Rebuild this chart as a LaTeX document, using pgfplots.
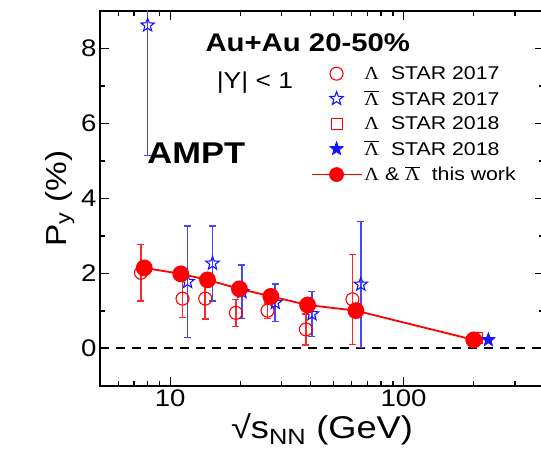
\documentclass[border=0pt]{standalone}
\usepackage{fontspec}
\setmainfont{Liberation Sans}[FakeStretch=1.15]
\newfontfamily\serifL{Liberation Serif}[FakeStretch=1.1]
\usepackage{pgfplots}
\pgfplotsset{compat=1.18}
\definecolor{myred}{RGB}{255,0,0}
\definecolor{myblue}{RGB}{20,20,255}
\definecolor{ebblue}{RGB}{70,70,255}
\newcommand{\Lam}{{\serifL Λ}}
\newcommand{\aLam}{$\overline{\hbox{\serifL Λ}}$}
\makeatletter
\pgfdeclareplotmark{ostar}{%
  \pgfpathmoveto{\pgfpointpolar{90}{\pgfplotmarksize}}%
  \pgfpathlineto{\pgfpointpolar{126}{0.42\pgfplotmarksize}}%
  \pgfpathlineto{\pgfpointpolar{162}{\pgfplotmarksize}}%
  \pgfpathlineto{\pgfpointpolar{198}{0.42\pgfplotmarksize}}%
  \pgfpathlineto{\pgfpointpolar{234}{\pgfplotmarksize}}%
  \pgfpathlineto{\pgfpointpolar{270}{0.42\pgfplotmarksize}}%
  \pgfpathlineto{\pgfpointpolar{306}{\pgfplotmarksize}}%
  \pgfpathlineto{\pgfpointpolar{342}{0.42\pgfplotmarksize}}%
  \pgfpathlineto{\pgfpointpolar{18}{\pgfplotmarksize}}%
  \pgfpathlineto{\pgfpointpolar{54}{0.42\pgfplotmarksize}}%
  \pgfpathclose
  \pgfusepathqstroke}
\pgfdeclareplotmark{fstar}{%
  \pgfpathmoveto{\pgfpointpolar{90}{\pgfplotmarksize}}%
  \pgfpathlineto{\pgfpointpolar{126}{0.42\pgfplotmarksize}}%
  \pgfpathlineto{\pgfpointpolar{162}{\pgfplotmarksize}}%
  \pgfpathlineto{\pgfpointpolar{198}{0.42\pgfplotmarksize}}%
  \pgfpathlineto{\pgfpointpolar{234}{\pgfplotmarksize}}%
  \pgfpathlineto{\pgfpointpolar{270}{0.42\pgfplotmarksize}}%
  \pgfpathlineto{\pgfpointpolar{306}{\pgfplotmarksize}}%
  \pgfpathlineto{\pgfpointpolar{342}{0.42\pgfplotmarksize}}%
  \pgfpathlineto{\pgfpointpolar{18}{\pgfplotmarksize}}%
  \pgfpathlineto{\pgfpointpolar{54}{0.42\pgfplotmarksize}}%
  \pgfpathclose
  \pgfusepathqfillstroke}
\makeatother
\pgfplotsset{
  myleg/.style={legend image code/.code={%
    \draw[mark repeat=2,mark phase=2,##1] plot coordinates {(0pt,0pt) (25pt,0pt) (50pt,0pt)};}},
}
\begin{document}
\begin{tikzpicture}
\begin{axis}[
  name=ax,
  scale only axis,
  width=444pt, height=375pt,
  xmode=log, log basis x=10,
  xmin=5, xmax=400, ymin=-1, ymax=9,
  xtick={10,100}, xticklabels={10,100},
  minor xtick={6,7,8,9,20,30,40,50,60,70,80,90,200,300},
  ytick={0,2,4,6,8},
  minor ytick={1,3,5,7},
  tick align=inside,
  major tick length=9pt, minor tick length=5pt,
  axis line style={line width=2pt},
  every tick/.style={line width=1.3pt, black},
  tick label style={font=\fontsize{24}{28}\selectfont},
  /pgf/number format/assume math mode=true,
  xlabel={√s\textsubscript{NN} (GeV)},
  ylabel={P\textsubscript{y} (\%)},
  xlabel style={font=\fontsize{31.5}{36}\selectfont},
  ylabel style={font=\fontsize{29}{34}\selectfont},
  legend style={at={(0.474,0.858)}, anchor=north west, draw=none, fill=none,
     font=\fontsize{18.5}{22}\selectfont, row sep=6pt, inner sep=0pt,
     nodes={inner sep=2pt},
     /tikz/every even column/.append style={column sep=6pt}},
  legend cell align=left,
  clip=true,
]
% zero line
\addplot[black, line width=2pt, dash pattern=on 9pt off 7pt, forget plot] coordinates {(5,0) (400,0)};

% STAR 2017 Lambda
\addplot[only marks, mark=o, mark size=6.5pt, color=myred, line width=1.1pt, myleg,
  error bars/.cd, y dir=both, y explicit, error bar style={line width=1.7pt, myred!85!white},
  error mark options={rotate=90, mark size=3.5pt, line width=1.7pt, myred!85!white},
  ] table[x=x, y=y, y error=e] {
x y e
7.49 2.02 0.75
11.29 1.33 0.50
14.13 1.33 0.54
19.12 0.95 0.36
26.12 1.01 0.21
38.15 0.51 0.41
60.4 1.31 1.20
};
\addlegendentry{\Lam\ \ STAR 2017}

% STAR 2017 anti-Lambda
\addplot[only marks, mark=ostar, mark size=7pt, color=myblue, line width=1.1pt, myleg,
  error bars/.cd, y dir=both, y explicit, error bar style={line width=1.7pt, ebblue},
  error mark options={rotate=90, mark size=3.5pt, line width=1.7pt, ebblue},
  ] table[x=x, y=y, y error=e] {
x y e
8.0 8.62 3.47
11.87 1.78 1.49
15.18 2.27 1.00
20.3 1.51 0.71
28.2 1.22 0.50
40.5 0.92 0.60
65.6 1.71 1.68
};
\addlegendentry{\aLam\ \ STAR 2017}

% this work
\addplot[color=myred, line width=1.8pt, mark=*, mark size=7.5pt, mark options={solid, fill=myred}, forget plot] table {
7.74 2.15
11.1 1.99
14.45 1.83
19.8 1.59
27.0 1.39
38.8 1.16
62.5 1.01
200 0.23
};

% STAR 2018 Lambda
\addplot[only marks, mark=square, mark size=5.5pt, color=myred, line width=1.1pt, myleg] coordinates {(207,0.27)};
\addlegendentry{\Lam\ \ STAR 2018}

% STAR 2018 anti-Lambda
\addplot[only marks, mark=fstar, mark size=7pt, color=myblue, line width=0.8pt, mark options={fill=myblue}, myleg] coordinates {(231,0.23)};
\addlegendentry{\aLam\ \ STAR 2018}

\addlegendimage{color=myred, line width=1.8pt, mark=*, mark size=6.5pt, mark options={solid, fill=myred}, myleg}
\addlegendentry{\Lam\ \& \aLam\ \ this work}

\node[font=\bfseries\fontsize{25.5}{30}\selectfont] at (rel axis cs:0.468,0.915) {Au+Au 20-50\%};
\node[font=\fontsize{23}{27}\selectfont] at (rel axis cs:0.349,0.808) {|Y| < 1};
\node[font=\bfseries\fontsize{30}{36}\selectfont] at (rel axis cs:0.217,0.621) {AMPT};
\end{axis}
\pgfresetboundingbox
\path[use as bounding box] ([shift={(-100pt,-90pt)}]ax.south west) rectangle ([shift={(441pt,386pt)}]ax.south west);
\end{tikzpicture}
\end{document}
